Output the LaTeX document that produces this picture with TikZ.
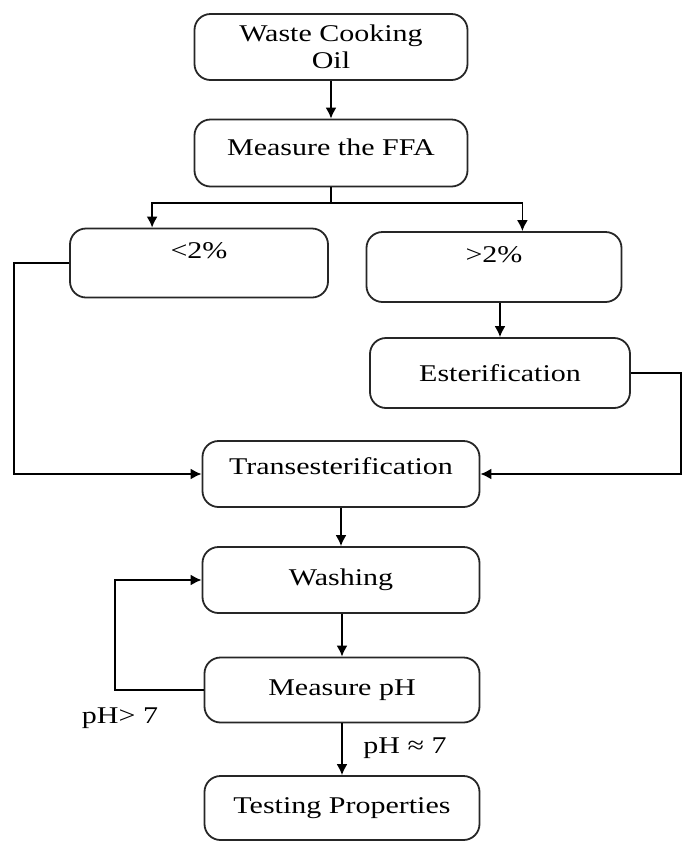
\documentclass[tikz,border=0pt]{standalone}
\usepackage{fontspec}
\setmainfont[FakeStretch=1.25]{Liberation Serif}
\usetikzlibrary{
  arrows.meta,
  positioning
}

\begin{document}
\begin{tikzpicture}[x=0.5pt, y=-0.5pt, line width=0.9pt, >={Latex[length=5.5pt,width=5.5pt]},
    stage/.style={draw=black!85, rounded corners=8pt, minimum height=33pt,
      align=center, font=\fontsize{12}{13.5}\selectfont},
    tag/.style={font=\fontsize{12}{13.5}\selectfont}]
  \def\Xm{341};
  \def\Xl{199};
  \def\Xr{494};
  \useasboundingbox (0,0) rectangle (684,842);

        \node [stage, minimum width=136.5pt] (oil) at (331, 47) {Waste Cooking\\Oil};
        \node [stage, minimum width=136.5pt, minimum height=33.5pt, text depth=6pt] (ffa) at (331, 153) {Measure the FFA};

        \node [stage, minimum width=129pt, minimum height=34.5pt, text depth=12pt] (low) at (\Xl, 263) {<2\%};
        \node [stage, minimum width=127.5pt, minimum height=35pt, text depth=12pt] (high) at (\Xr, 267) {>2\%};
        \node [stage, minimum width=130pt, minimum height=35pt] (est) at (500, 373) {Esterification};

        \node [stage, minimum width=138.5pt, text depth=8pt] (trans) at (\Xm, 474) {Transesterification};
        \node [stage, minimum width=138.5pt] (wash) at (\Xm, 580) {Washing};
        \node [stage, minimum width=137.5pt, minimum height=32.5pt] (ph) at (342, 690) {Measure pH};
        \node [stage, minimum width=137.5pt, minimum height=32pt] (test) at (342, 808) {Testing Properties};

        \node [tag] (phhigh) at (120, 718) {pH> 7};
        \node [tag] (phok) at (405, 748) {pH ≈ 7};

	\draw[->] (oil) -- (ffa);
	\coordinate (split) at (331, 203);
	\coordinate (lowin) at ([xshift=41.5pt]low.north west);
	\coordinate (highin) at ([xshift=-50pt]high.north east);
	\draw (ffa.south) -- (split);
	\draw[->] (split) -| (lowin);
	\draw[->] (split) -| (highin);
	\draw[->] (high.south -| est.north) -- (est.north);

	\draw[->] (low.west) -- ++(-55, 0) |- (trans.west);
	\draw[->] (est.east) -- ++(50, 0) |- (trans.east);

	\draw[->] (trans) -- (wash);
	\draw[->] (wash.south -| ph.north) -- (ph.north);
	\draw[->] (ph.west) -- ++(-89, 0) |- (wash.west);
	\draw[->] (ph) -- (test);

\end{tikzpicture}
\end{document}
